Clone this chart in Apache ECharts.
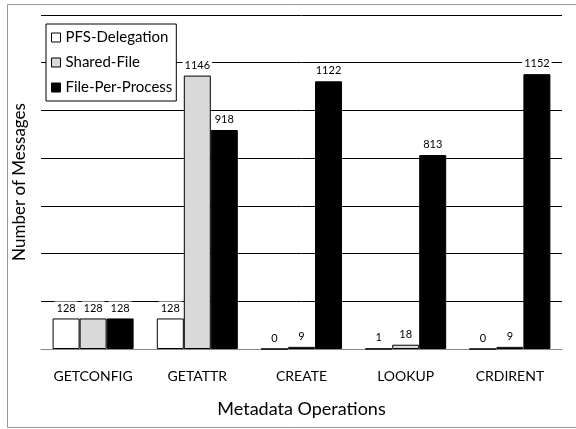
<!DOCTYPE html>
<html><head><meta charset="utf-8">
<script src="https://cdn.jsdelivr.net/npm/echarts@6/dist/echarts.min.js"></script>
<style>html,body{margin:0;padding:0;background:#fff}#c{width:576px;height:429px}</style>
</head><body><div id="c"></div>
<script>
const categories = ['GETCONFIG','GETATTR','CREATE','LOOKUP','CRDIRENT'];
const seriesNames = ['PFS-Delegation','Shared-File','File-Per-Process'];
const pfsDelegation = [128,128,0,1,0];
const sharedFile = [128,1146,9,18,9];
const filePerProcess = [128,918,1122,813,1152];
const yTicks = {min:0,max:1400,interval:200};
const colors = ['#ffffff','#d9d9d9','#000000'];
const FONT = 'Lato, "Open Sans", sans-serif';
const chart = echarts.init(document.getElementById('c'));
function mk(name, data, color){
  return {name, type:'bar', data, barWidth:27, barGap:'0%',
    itemStyle:{color, borderColor:'#000', borderWidth:1},
    label:{show:true, position:'top', distance:4, fontSize:11, color:'#000', fontFamily:FONT,
      backgroundColor:'#fff', padding:[1,2]}};
}
chart.setOption({
  animation:false,
  textStyle:{fontFamily:FONT},
  graphic:[{type:'rect', shape:{x:7.5,y:4.5,width:580,height:423}, style:{fill:'none',stroke:'#999',lineWidth:1}, z:-10}],
  grid:{left:41,right:14,top:15,bottom:80},
  legend:{orient:'vertical', left:46, top:24, data:seriesNames, icon:'rect', itemWidth:9, itemHeight:9, itemGap:10,
    backgroundColor:'#fff', borderColor:'#000', borderWidth:1, padding:[6,4,6,5],
    textStyle:{fontSize:15, color:'#000', fontFamily:FONT},
    itemStyle:{borderColor:'#000', borderWidth:1}, z:10},
  xAxis:{type:'category', data:categories,
    axisLine:{lineStyle:{color:'#888'}}, axisTick:{show:false},
    axisLabel:{fontSize:14, color:'#000', margin:20, fontFamily:FONT},
    name:'Metadata Operations', nameLocation:'middle', nameGap:51,
    nameTextStyle:{fontSize:18, color:'#000', fontFamily:FONT}},
  yAxis:{type:'value', min:yTicks.min, max:yTicks.max, interval:yTicks.interval,
    axisLabel:{show:false}, axisLine:{show:false}, axisTick:{show:false},
    splitLine:{lineStyle:{color:'#000', width:1}},
    name:'Number of Messages', nameLocation:'middle', nameGap:13,
    nameTextStyle:{fontSize:17, color:'#000', fontFamily:FONT}},
  series:[mk(seriesNames[0],pfsDelegation,colors[0]), mk(seriesNames[1],sharedFile,colors[1]), mk(seriesNames[2],filePerProcess,colors[2])]
});
</script></body></html>
